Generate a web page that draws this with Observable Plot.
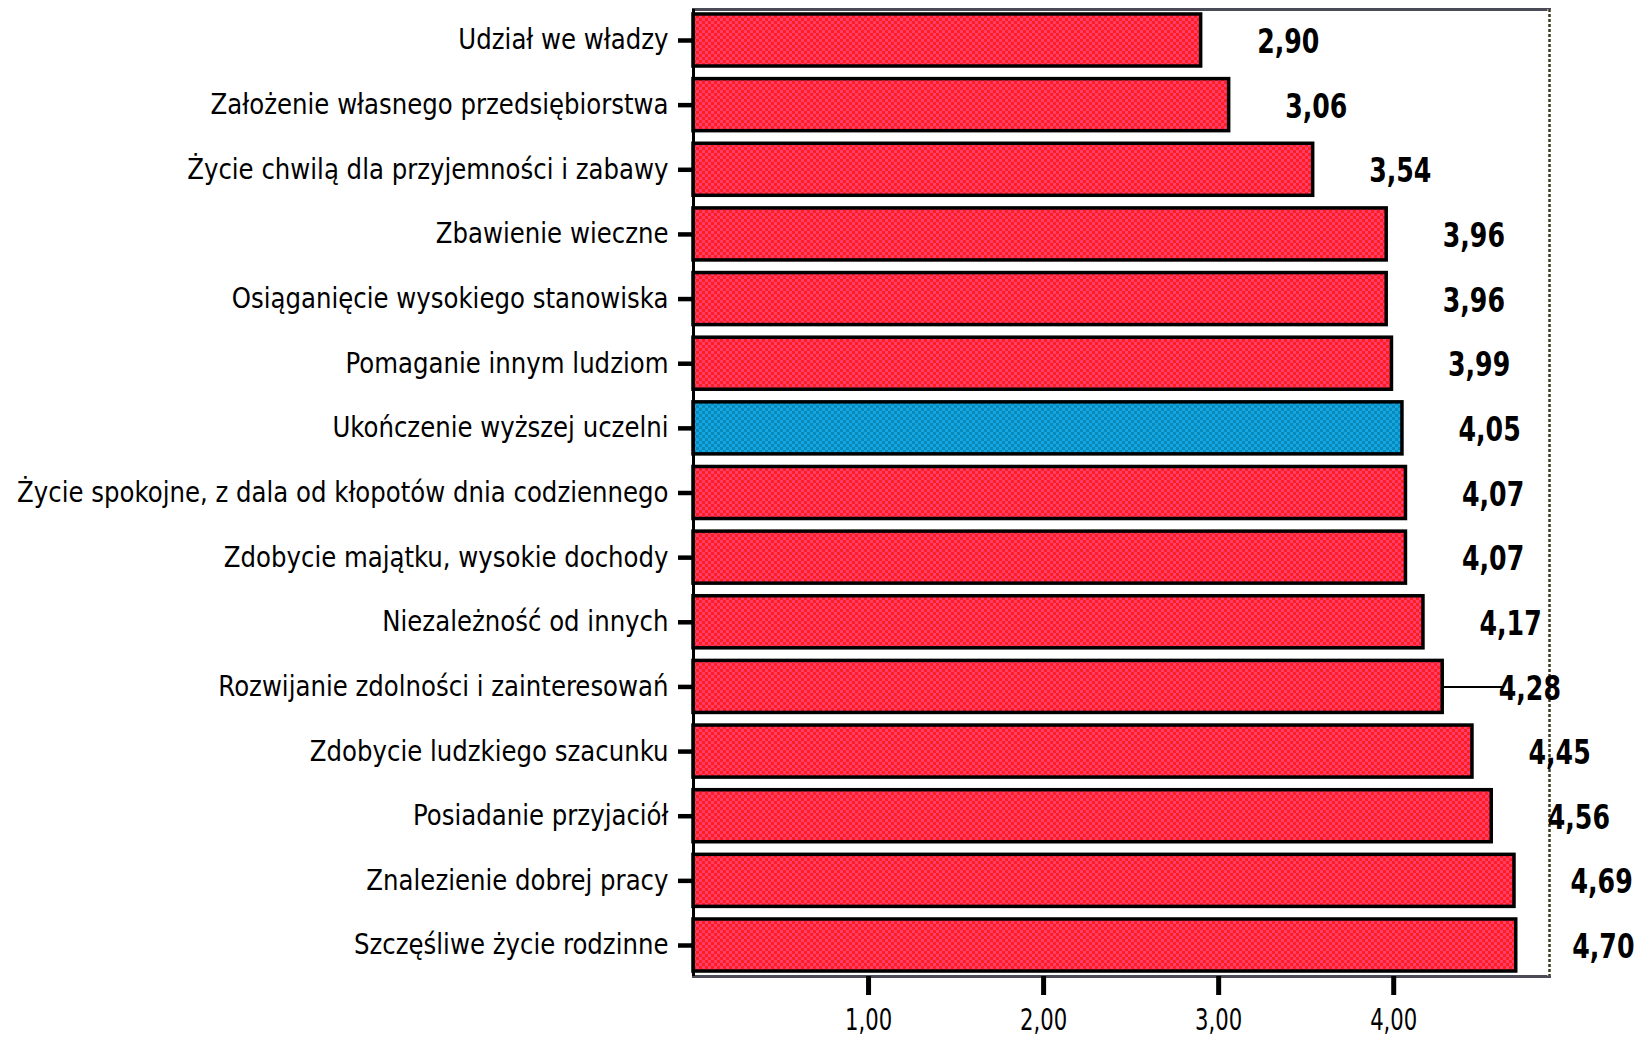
<!DOCTYPE html>
<html>
<head>
<meta charset="utf-8">
<script src="https://cdn.jsdelivr.net/npm/d3@7"></script>
<script src="https://cdn.jsdelivr.net/npm/@observablehq/plot@0.6"></script>
<style>
  html, body { margin: 0; padding: 0; background: #ffffff; }
  #chart svg { display: block; }
</style>
</head>
<body>
<div id="chart"></div>
<script>
// ---- data ----
const labels = [
  "Udział we władzy",
  "Założenie własnego przedsiębiorstwa",
  "Życie chwilą dla przyjemności i zabawy",
  "Zbawienie wieczne",
  "Osiąganięcie wysokiego stanowiska",
  "Pomaganie innym ludziom",
  "Ukończenie wyższej uczelni",
  "Życie spokojne, z dala od kłopotów dnia codziennego",
  "Zdobycie majątku, wysokie dochody",
  "Niezależność od innych",
  "Rozwijanie zdolności i zainteresowań",
  "Zdobycie ludzkiego szacunku",
  "Posiadanie przyjaciół",
  "Znalezienie dobrej pracy",
  "Szczęśliwe życie rodzinne"
];
const values = [2.90, 3.06, 3.54, 3.96, 3.96, 3.99, 4.05, 4.07, 4.07, 4.17, 4.28, 4.45, 4.56, 4.69, 4.70];
const highlighted = ["Ukończenie wyższej uczelni"];
const xTicks = [1, 2, 3, 4];
const xMax = 4.89;
// leader line seen next to one label
const connectorLabels = ["Rozwijanie zdolności i zainteresowań"];
const connectorFrom = [4.28];
const connectorTo = [4.63];

const data = labels.map((label, i) => ({label, value: values[i], hi: highlighted.includes(label)}));
const connectors = connectorLabels.map((label, i) => ({label, from: connectorFrom[i], to: connectorTo[i]}));
const fmt = v => v.toFixed(2).replace(".", ",");

const FONT = "'DejaVu Sans Condensed', 'DejaVu Sans', sans-serif";

const chart = Plot.plot({
  width: 1647,
  height: 1037,
  marginLeft: 693,
  marginRight: 98,
  marginTop: 9,
  marginBottom: 61,
  style: {fontFamily: FONT, background: "#ffffff", color: "#000000"},
  x: {domain: [0, xMax]},
  y: {domain: labels, paddingInner: 0.195, paddingOuter: 0.077, round: false},
  marks: [
    Plot.frame({stroke: "#4b4b57", strokeWidth: 3}),
    Plot.ruleX([xMax], {stroke: "#ffffff", strokeWidth: 4}),
    Plot.ruleX([xMax], {stroke: "#3a3a1c", strokeWidth: 2.5, strokeDasharray: "3,2"}),
    Plot.barX(data.filter(d => !d.hi), {x: "value", y: "label", fill: "url(#redDither)", stroke: "#000000", strokeWidth: 3.5}),
    Plot.barX(data.filter(d => d.hi), {x: "value", y: "label", fill: "url(#blueDither)", stroke: "#000000", strokeWidth: 3.5}),
    Plot.ruleY(connectors, {y: "label", x1: "from", x2: "to", stroke: "#000000", strokeWidth: 2}),
    Plot.text(data, {
      x: "value", y: "label", text: d => fmt(d.value),
      dx: 56, dy: 2, textAnchor: "start",
      fontSize: 33, fontWeight: "bold", fill: "#000000", fontFamily: FONT
    }),
    Plot.ruleX([0], {stroke: "#000000", strokeWidth: 3}),
    Plot.axisY({
      tickSize: 15, tickPadding: 10, fontSize: 28, strokeWidth: 4.5,
      stroke: "#000000", fill: "#000000", label: null, fontFamily: FONT
    }),
    Plot.axisX({
      ticks: xTicks, tickFormat: fmt, tickSize: 19, tickPadding: 12,
      fontSize: 31, strokeWidth: 5, stroke: "#000000", fill: "#000000",
      label: null, fontFamily: FONT
    })
  ]
});

// narrow the glyphs horizontally (the source uses a tall, narrow bitmap font)
function squeeze(selector, s) {
  d3.select(chart).selectAll(selector).each(function () {
    const t = d3.select(this);
    const tr = t.attr("transform") || "";
    const xa = t.attr("x");
    let pre = "";
    if (xa != null && /^-?[\d.]+(px)?$/.test(xa.trim())) {
      pre = ` translate(${parseFloat(xa)},0)`;
      t.attr("x", null);
    }
    t.attr("transform", `${tr}${pre} scale(${s},1)`);
  });
}
squeeze('g[aria-label="text"] text', 0.85);
squeeze('g[aria-label="y-axis tick label"] text', 0.97);
squeeze('g[aria-label="x-axis tick label"] text', 0.76);

// dither patterns used as bar fills
const defs = d3.select(chart).insert("defs", ":first-child");
const red = defs.append("pattern").attr("id", "redDither")
  .attr("patternUnits", "userSpaceOnUse").attr("width", 6).attr("height", 6);
red.append("rect").attr("width", 6).attr("height", 6).attr("fill", "#ff1e1e");
red.append("rect").attr("width", 3).attr("height", 3).attr("fill", "#ff3c6c");
red.append("rect").attr("x", 3).attr("y", 3).attr("width", 3).attr("height", 3).attr("fill", "#ff3c6c");
const blue = defs.append("pattern").attr("id", "blueDither")
  .attr("patternUnits", "userSpaceOnUse").attr("width", 6).attr("height", 6);
blue.append("rect").attr("width", 6).attr("height", 6).attr("fill", "#0a88b6");
blue.append("rect").attr("width", 3).attr("height", 3).attr("fill", "#12a6e4");
blue.append("rect").attr("x", 3).attr("y", 3).attr("width", 3).attr("height", 3).attr("fill", "#12a6e4");

document.getElementById("chart").appendChild(chart);
</script>
</body>
</html>
